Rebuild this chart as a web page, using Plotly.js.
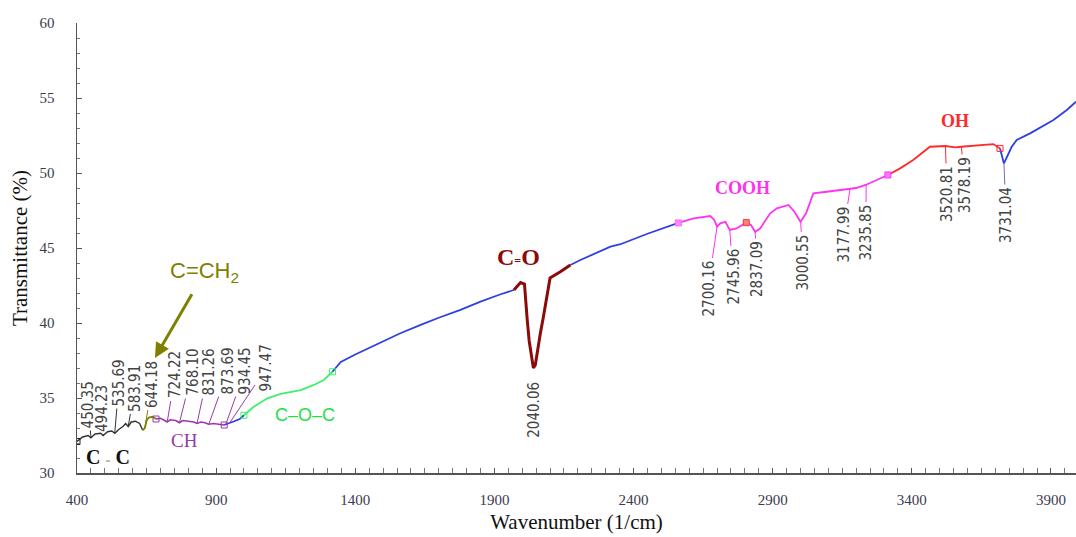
<!DOCTYPE html>
<html>
<head>
<meta charset="utf-8">
<script src="https://cdn.plot.ly/plotly-3.0.1.min.js"></script>
<style>html,body{margin:0;padding:0;background:#fff;}#chart{width:1076px;height:537px;}</style>
</head>
<body>
<div id="chart"></div>
<script>
// ---- spectrum data (wavenumber, transmittance %), by band segment ----
const ccWn   = [400, 420, 440, 450, 465, 485, 494, 510, 525, 536, 550, 565, 575, 584, 595, 610, 625, 636];
const ccT    = [32.1, 32.4, 32.5, 32.35, 32.6, 32.65, 32.5, 32.75, 32.8, 32.65, 32.9, 33.1, 33.3, 33.1, 33.4, 33.45, 33.3, 32.85];
const ch2Wn  = [636, 644, 650, 658, 672, 684];
const ch2T   = [32.85, 33.0, 33.5, 33.7, 33.75, 33.6];
const chWn   = [684, 700, 715, 724, 735, 755, 768, 780, 800, 820, 831, 845, 860, 873, 890, 910, 929];
const chT    = [33.6, 33.65, 33.5, 33.4, 33.55, 33.5, 33.35, 33.5, 33.45, 33.4, 33.3, 33.4, 33.35, 33.25, 33.3, 33.25, 33.2];
const b1Wn   = [929, 947, 965, 985, 1000];
const b1T    = [33.2, 33.3, 33.45, 33.6, 33.85];
const cocWn  = [1000, 1035, 1084, 1132, 1204, 1251, 1287, 1318];
const cocT   = [33.85, 34.42, 34.98, 35.27, 35.53, 35.87, 36.2, 36.75];
const b2Wn   = [1318, 1348, 1400, 1491, 1560, 1635, 1700, 1778, 1850, 1920, 1970];
const b2T    = [36.75, 37.4, 37.9, 38.67, 39.3, 39.87, 40.35, 40.87, 41.42, 41.9, 42.2];
const coWn   = [1970, 1994, 2008, 2012, 2018, 2025, 2033, 2040, 2047, 2055, 2065, 2075, 2085, 2093, 2100, 2137, 2173];
const coT    = [42.2, 42.7, 42.6, 41.5, 40.2, 38.8, 37.8, 37.0, 37.2, 38.2, 39.3, 40.3, 41.3, 42.2, 43.0, 43.42, 43.87];
const b3Wn   = [2173, 2209, 2317, 2353, 2450, 2561];
const b3T    = [43.87, 44.2, 45.09, 45.25, 45.95, 46.67];
const coohWn = [2561, 2616, 2676, 2690, 2700, 2712, 2730, 2746, 2770, 2805, 2822, 2837, 2855, 2891, 2915, 2957, 2978, 3000, 3020, 3046, 3094, 3154, 3178, 3200, 3236, 3262, 3286, 3314];
const coohT  = [46.67, 46.98, 47.13, 46.87, 46.42, 46.64, 46.75, 46.2, 46.3, 46.69, 46.53, 46.09, 46.3, 47.31, 47.64, 47.87, 47.42, 46.75, 47.31, 48.64, 48.75, 48.87, 48.95, 49.0, 49.22, 49.42, 49.64, 49.87];
const ohWn   = [3314, 3358, 3405, 3465, 3521, 3555, 3578, 3645, 3693, 3717];
const ohT    = [49.87, 50.31, 50.87, 51.75, 51.8, 51.71, 51.75, 51.87, 51.93, 51.64];
const b4Wn   = [3717, 3731, 3759, 3777, 3825, 3909, 3957, 3990];
const b4T    = [51.64, 50.64, 51.75, 52.2, 52.64, 53.53, 54.2, 54.75];

// ---- peak labels ----
const peakWn = [450.35, 494.23, 535.69, 583.91, 644.18, 724.22, 768.10, 831.26, 873.69, 934.45, 947.47,
                2040.06, 2700.16, 2745.96, 2837.09, 3000.55, 3177.99, 3235.85, 3520.81, 3578.19, 3731.04];
// band group names
const groupNames = ['C=C', 'C=CH₂', 'CH', 'C–O–C', 'C=O', 'COOH', 'OH'];

// ---- axis ticks ----
const xTick0 = 400, xDtick = 500, yDtick = 5;

// ---- styles / positions (layout only) ----
const colBlue = '#2f3fe0', colBlack = '#333333', colOlive = '#808000', colPurple = '#9b3aa8',
      colGreen = '#3ff06a', colDarkRed = '#8b0a0a', colMag = '#ff33ee', colRed = '#ff2a2a';

function seg(x, y, color, w) {
  return {x: x, y: y, type: 'scatter', mode: 'lines', line: {color: color, width: w || 1.8}, hoverinfo: 'skip', showlegend: false};
}
const traces = [
  seg(ccWn, ccT, colBlack, 1.4),
  seg(ch2Wn, ch2T, colOlive, 1.8),
  seg(chWn, chT, colPurple, 1.6),
  seg(b1Wn, b1T, colBlue, 1.8),
  seg(cocWn, cocT, colGreen, 1.8),
  seg(b2Wn, b2T, colBlue, 1.8),
  seg(coWn, coT, colDarkRed, 3),
  seg(b3Wn, b3T, colBlue, 1.8),
  seg(coohWn, coohT, colMag, 1.8),
  seg(ohWn, ohT, colRed, 1.8),
  seg(b4Wn, b4T, colBlue, 1.8)
];

// boundary markers
function mk(xArr, yArr, i, sym, color, fill) {
  return {x: [xArr[i]], y: [yArr[i]], type: 'scatter', mode: 'markers', hoverinfo: 'skip', showlegend: false,
          marker: {symbol: sym, size: 6, color: fill || color, line: {color: color, width: 1}}};
}
traces.push(mk(ccWn, ccT, 0, 'square-open', '#222'));
traces.push(mk(chWn, chT, 0, 'square-open', colPurple));
traces.push(mk(chWn, chT, chWn.length - 1, 'square-open', colPurple));
traces.push(mk(cocWn, cocT, 0, 'square-open', colGreen));
traces.push(mk(cocWn, cocT, cocWn.length - 1, 'square-open', colGreen));
traces.push(mk(coohWn, coohT, 0, 'square', '#ff66ff', '#ff88ff'));
traces.push(mk(coohWn, coohT, 9, 'square', '#ff3030', '#ff8080'));
traces.push(mk(ohWn, ohT, 0, 'square', '#ff33ff', '#ff77ff'));
traces.push(mk(ohWn, ohT, ohWn.length - 1, 'square-open', colRed));

// full curve for locating leader line ends
const allWn = [].concat(ccWn, ch2Wn, chWn, b1Wn, cocWn, b2Wn, coWn, b3Wn, coohWn, ohWn, b4Wn);
const allT  = [].concat(ccT, ch2T, chT, b1T, cocT, b2T, coT, b3T, coohT, ohT, b4T);
function curveAt(w) {
  for (let i = 1; i < allWn.length; i++) {
    if (allWn[i] >= w && allWn[i - 1] <= w) {
      const a = allWn[i - 1], b = allWn[i];
      if (b === a) return allT[i];
      return allT[i - 1] + (allT[i] - allT[i - 1]) * (w - a) / (b - a);
    }
  }
  return allT[allT.length - 1];
}

// label text-centre positions (x in 1/cm, y in %) and leader colours
const labelPos = [
  [439.5, 34.57], [489.8, 34.33], [550.9, 36.03], [608.4, 35.67], [669.5, 35.93],
  [752.2, 36.53], [813.3, 36.7], [870.8, 36.7], [942.6, 36.83], [1003.7, 36.83], [1079.2, 36.97],
  [2041.3, 34.2], [2667.6, 42.3], [2757.4, 43.1], [2843.6, 43.6], [3008.9, 44.03],
  [3152.7, 45.9], [3235.3, 46.03], [3526.4, 48.6], [3591.1, 49.2], [3738.4, 47.2]
];
const leaderCol = [colBlack, colBlack, colBlack, colBlack, colOlive,
  colPurple, colPurple, colPurple, colPurple, colPurple, colPurple,
  null, colMag, colMag, colMag, colMag, colMag, colMag, colRed, colRed, '#6a72b0'];

const labelFont = {family: 'Liberation Sans Narrow, DejaVu Sans Condensed, Arial Narrow, sans-serif', size: 15, color: '#444444'};
const annotations = [];
peakWn.forEach(function (w, i) {
  const txt = w.toFixed(2);
  if (leaderCol[i] === null) {
    annotations.push({x: labelPos[i][0], y: labelPos[i][1], xref: 'x', yref: 'y', text: txt, showarrow: false,
                      textangle: -90, font: labelFont});
  } else {
    annotations.push({x: w, y: curveAt(w), xref: 'x', yref: 'y', axref: 'x', ayref: 'y',
                      ax: labelPos[i][0], ay: labelPos[i][1], text: txt, textangle: -90, font: labelFont,
                      showarrow: true, arrowhead: 0, arrowwidth: 1, arrowcolor: leaderCol[i], standoff: 0, startstandoff: 1});
  }
});

const serif = 'Liberation Serif, Times New Roman, serif';
const sans = 'Liberation Sans, Arial, sans-serif';
// group labels
annotations.push({x: 511, y: 31.07, xref: 'x', yref: 'y', showarrow: false,
  text: '<b>C <span style="font-size:9px;color:#888">=</span> C</b>', font: {family: serif, size: 20, color: '#111'}});
annotations.push({x: 680, y: 37.67, xref: 'x', yref: 'y', ax: 50, ay: -86, showarrow: true,
  text: 'C=CH<sub>2</sub>', font: {family: sans, size: 22, color: colOlive},
  arrowhead: 2, arrowsize: 1, arrowwidth: 3, arrowcolor: colOlive, standoff: 0, startstandoff: 8});
annotations.push({x: 788, y: 32.2, xref: 'x', yref: 'y', showarrow: false,
  text: 'CH', font: {family: serif, size: 19, color: colPurple}});
annotations.push({x: 1219, y: 33.87, xref: 'x', yref: 'y', showarrow: false,
  text: 'C–O–C', font: {family: sans, size: 18, color: '#22e040'}});
annotations.push({x: 1988, y: 44.4, xref: 'x', yref: 'y', showarrow: false,
  text: '<b>C<span style="font-size:12px">=</span>O</b>', font: {family: serif, size: 24, color: colDarkRed}});
annotations.push({x: 2793, y: 49.0, xref: 'x', yref: 'y', showarrow: false,
  text: '<b>COOH</b>', font: {family: serif, size: 18, color: colMag}});
annotations.push({x: 3555, y: 53.47, xref: 'x', yref: 'y', showarrow: false,
  text: '<b>OH</b>', font: {family: serif, size: 18, color: colRed}});

const tickFont = {family: serif, size: 15, color: '#3a3a4e'};
const layout = {
  width: 1076, height: 537,
  margin: {l: 77, r: 0, t: 23, b: 64},
  paper_bgcolor: '#ffffff', plot_bgcolor: '#ffffff',
  showlegend: false,
  xaxis: {
    range: [400, 3990], tick0: xTick0, dtick: xDtick, showgrid: false, zeroline: false,
    showline: true, linecolor: '#555', linewidth: 1.5,
    ticks: 'inside', ticklen: 5, tickcolor: '#555',
    minor: {dtick: 50, ticks: 'inside', ticklen: 5, tickcolor: '#777', showgrid: false},
    tickfont: tickFont, ticklabelstandoff: 12,
    title: {text: 'Wavenumber (1/cm)', font: {family: serif, size: 21, color: '#111'}, standoff: 8}
  },
  yaxis: {
    range: [30, 60], dtick: yDtick, showgrid: false, zeroline: false,
    showline: true, linecolor: '#555', linewidth: 1.5,
    ticks: 'inside', ticklen: 5, tickcolor: '#555',
    minor: {dtick: 1, ticks: 'inside', ticklen: 3, tickcolor: '#777', showgrid: false},
    tickfont: tickFont, ticklabelstandoff: 18,
    title: {text: 'Transmittance (%)', font: {family: serif, size: 21, color: '#111'}, standoff: 6}
  },
  annotations: annotations
};
Plotly.newPlot('chart', traces, layout, {displayModeBar: false, staticPlot: true});
</script>
</body>
</html>
